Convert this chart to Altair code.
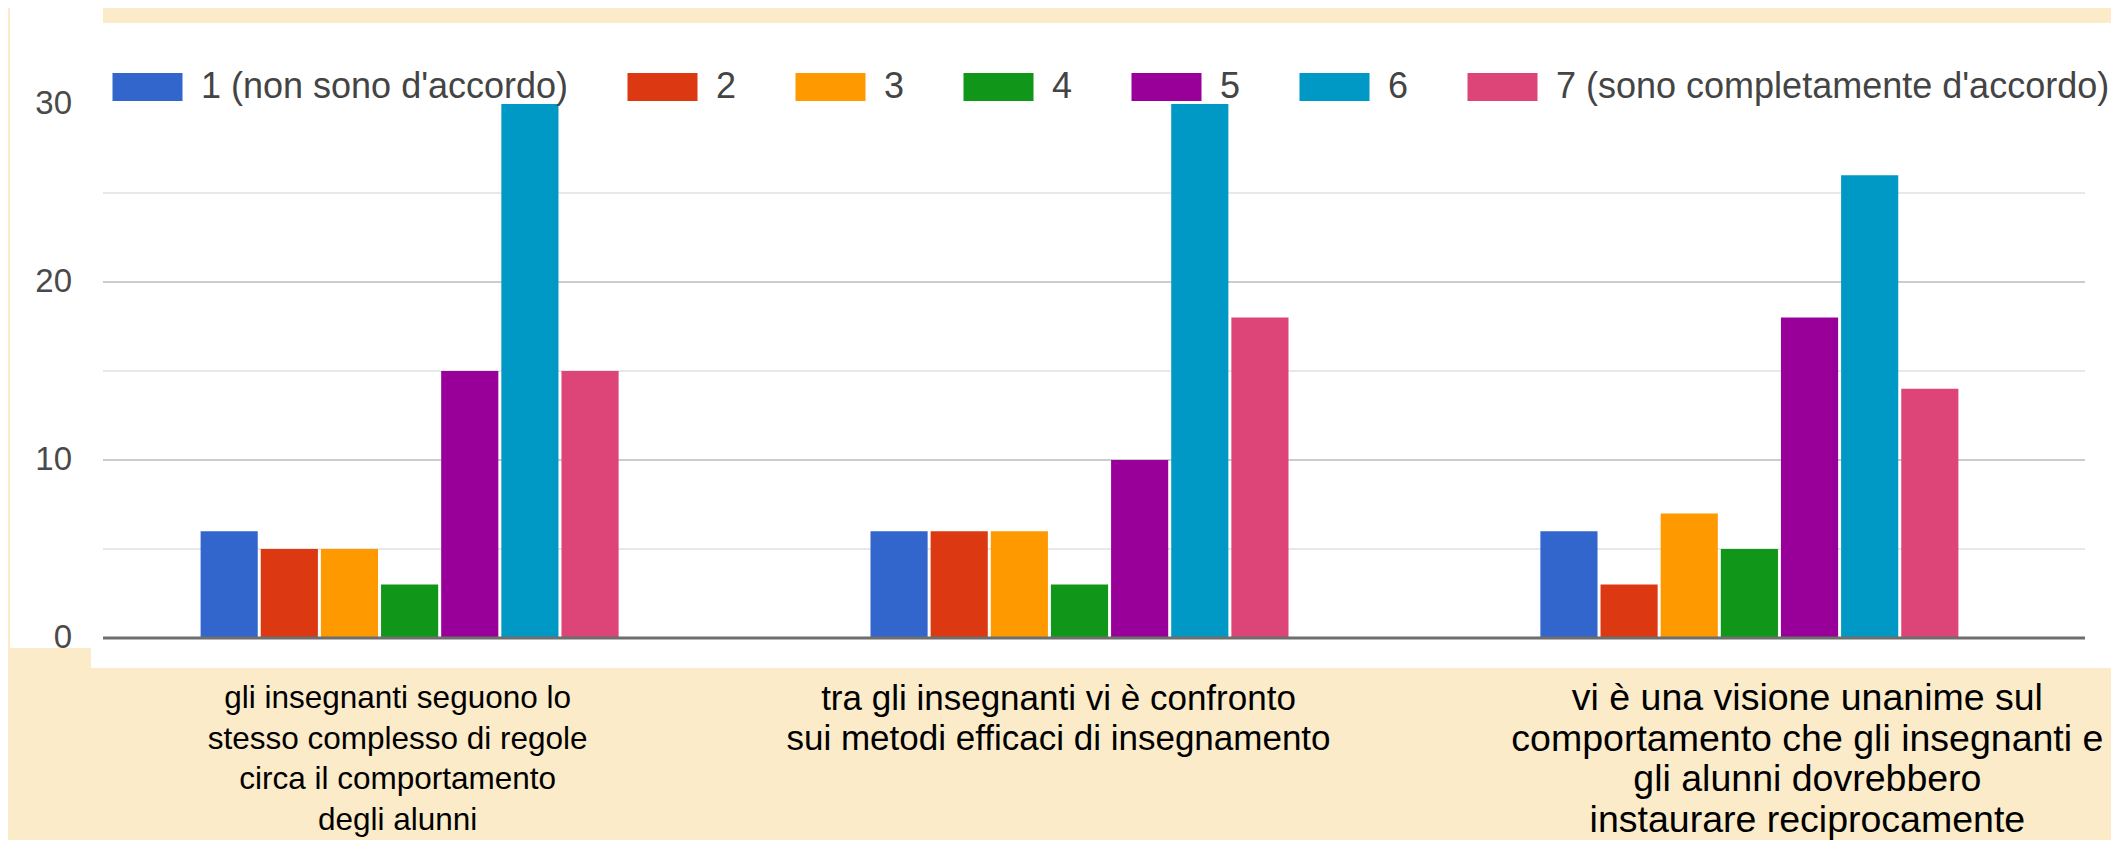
import altair as alt
import pandas as pd

# ---------------- data ----------------
questions = [
    "gli insegnanti seguono lo stesso complesso di regole circa il comportamento degli alunni",
    "tra gli insegnanti vi è confronto sui metodi efficaci di insegnamento",
    "vi è una visione unanime sul comportamento che gli insegnanti e gli alunni dovrebbero instaurare reciprocamente",
]
question_lines = [
    ["gli insegnanti seguono lo", "stesso complesso di regole", "circa il comportamento", "degli alunni"],
    ["tra gli insegnanti vi è confronto", "sui metodi efficaci di insegnamento"],
    ["vi è una visione unanime sul", "comportamento che gli insegnanti e", "gli alunni dovrebbero", "instaurare reciprocamente"],
]
ratings = ["1 (non sono d'accordo)", "2", "3", "4", "5", "6", "7 (sono completamente d'accordo)"]
counts_q1 = [6, 5, 5, 3, 15, 30, 15]
counts_q2 = [6, 6, 6, 3, 10, 30, 18]
counts_q3 = [6, 3, 7, 5, 18, 26, 14]
y_ticks = [0, 10, 20, 30]
grid_major = [10, 20]
grid_minor = [5, 15, 25]

# ---------------- styles ----------------
colors = ["#3366cc", "#dc3912", "#ff9900", "#109618", "#990099", "#0099c6", "#dd4477"]
CREAM = "#fbebc9"
FONT = "Liberation Sans"
W, H = 2011, 534
label_dx = [-12, -21, 58]
label_size = [31.5, 35, 37.5]
label_top = [H + 45, H + 43.5, H + 42]

rows = []
for q, counts in zip(questions, [counts_q1, counts_q2, counts_q3]):
    for r, c in zip(ratings, counts):
        rows.append({"question": q, "rating": r, "value": c})
df = pd.DataFrame(rows)
one = pd.DataFrame({"value": [0]})

x_enc = alt.X("question:N",
              scale=alt.Scale(domain=questions, paddingInner=0.376, paddingOuter=0.189),
              axis=None)
y_scale = alt.Scale(domain=[0, 30], nice=False, zero=True)

panel = alt.Chart(one).mark_rect(color="white").encode(
    x=alt.value(17), x2=alt.value(2040), y=alt.value(-81), y2=alt.value(564))
strip = alt.Chart(one).mark_rect(color="white").encode(
    x=alt.value(-64), x2=alt.value(29), y=alt.value(-99), y2=alt.value(544))

minor = alt.Chart(pd.DataFrame({"value": grid_minor})).mark_rule(
    color="#e8e8e8", strokeWidth=2).encode(
    y=alt.Y("value:Q", scale=y_scale, axis=None), x=alt.value(29), x2=alt.value(W))
major = alt.Chart(pd.DataFrame({"value": grid_major})).mark_rule(
    color="#cccccc", strokeWidth=2).encode(
    y=alt.Y("value:Q", scale=y_scale, axis=None), x=alt.value(29), x2=alt.value(W))

bars = alt.Chart(df).mark_bar().encode(
    x=x_enc,
    xOffset=alt.XOffset("rating:N",
                        scale=alt.Scale(domain=ratings, paddingInner=0.05, paddingOuter=0)),
    y=alt.Y("value:Q", scale=y_scale, axis=None),
    color=alt.Color("rating:N", scale=alt.Scale(domain=ratings, range=colors),
                    legend=alt.Legend(title=None, orient="none", legendX=38, legendY=-35,
                                      direction="horizontal", columns=7,
                                      symbolType="M-1,-0.8H3V0.8H-1Z", symbolSize=1225,
                                      symbolStrokeWidth=0, symbolOpacity=1,
                                      labelFont=FONT, labelFontSize=36, labelColor="#444444",
                                      labelOffset=53, columnPadding=58, labelLimit=1000,
                                      padding=0)),
)

baseline = alt.Chart(one).mark_rule(color="#6e6e6e", strokeWidth=3).encode(
    y=alt.Y("value:Q", scale=y_scale, axis=None), x=alt.value(29), x2=alt.value(W))

ylabels = alt.Chart(pd.DataFrame({"value": y_ticks})).mark_text(
    font=FONT, fontSize=33, color="#4a4a4a", align="right", baseline="middle").encode(
    y=alt.Y("value:Q", scale=y_scale, axis=None), x=alt.value(-2), text="value:Q")

texts = []
for i, (q, lines) in enumerate(zip(questions, question_lines)):
    tdf = pd.DataFrame({"question": [q], "label": ["\n".join(lines)]})
    texts.append(
        alt.Chart(tdf).mark_text(font=FONT, fontSize=label_size[i], color="#000000",
                                 baseline="top", align="center", lineBreak="\n",
                                 lineHeight=40.5, dx=label_dx[i]).encode(
            x=x_enc, y=alt.value(label_top[i]), text="label:N"))

chart = alt.layer(panel, strip, minor, major, bars, baseline, ylabels, *texts).properties(
    width=W, height=H,
    padding={"left": 66, "top": 96, "right": 26, "bottom": 202},
    autosize=alt.AutoSizeParams(type="none"),
).configure(background=CREAM).configure_view(stroke=None)

chart.save("out.html", embed_options={"renderer": "svg", "actions": False})
